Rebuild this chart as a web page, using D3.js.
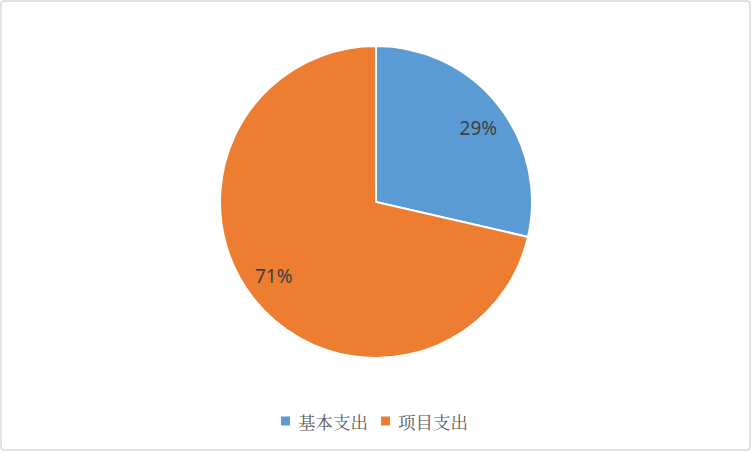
<!DOCTYPE html>
<html><head><meta charset="utf-8">
<script src="https://cdn.jsdelivr.net/npm/d3@7"></script>
<style>html,body{margin:0;padding:0;background:#fff;}</style>
</head><body>
<svg id="c" width="752" height="452"></svg>
<script>
const categories = ["基本支出", "项目支出"];
const values = [28.6, 71.4];
const colors = ["#5b9bd5", "#ed7d31"];

const svg = d3.select("#c");
svg.append("rect").attr("x",1).attr("y",1).attr("width",749).attr("height",449)
  .attr("rx",3).attr("fill","#fff").attr("stroke","#d9d9d9").attr("stroke-width",1.5);

const cx = 376, cy = 202, R = 156;
const pie = d3.pie().sort(null).value(d=>d)(values);
const arc = d3.arc().innerRadius(0).outerRadius(R);
const total = d3.sum(values);
const g = svg.append("g").attr("transform",`translate(${cx},${cy})`);
g.selectAll("path").data(pie).join("path")
  .attr("d",arc).attr("fill",(d,i)=>colors[i])
  .attr("stroke","#fff").attr("stroke-width",2);
const lr = R*0.81;
g.selectAll("text").data(pie).join("text")
  .attr("transform",d=>{
    const a = (d.startAngle+d.endAngle)/2 + 0.045;
    return `translate(${lr*Math.sin(a)},${-lr*Math.cos(a)})`;
  })
  .attr("text-anchor","middle").attr("dominant-baseline","central")
  .attr("font-family","'Noto Sans', 'DejaVu Sans', sans-serif")
  .attr("font-size",19).attr("fill","#404040")
  .text(d=>Math.round(d.value/total*100)+"%");

const legendX = [281, 381];
const lg = svg.append("g");
categories.forEach((c,i)=>{
  lg.append("rect").attr("x",legendX[i]).attr("y",416.5).attr("width",9).attr("height",9).attr("fill",colors[i]);
  lg.append("text").attr("x",legendX[i]+17).attr("y",421).attr("dominant-baseline","central")
    .attr("font-family","'Noto Serif CJK SC','Noto Sans CJK SC', sans-serif")
    .attr("font-size",17.5).attr("fill","#595959").text(c);
});
</script>
</body></html>
